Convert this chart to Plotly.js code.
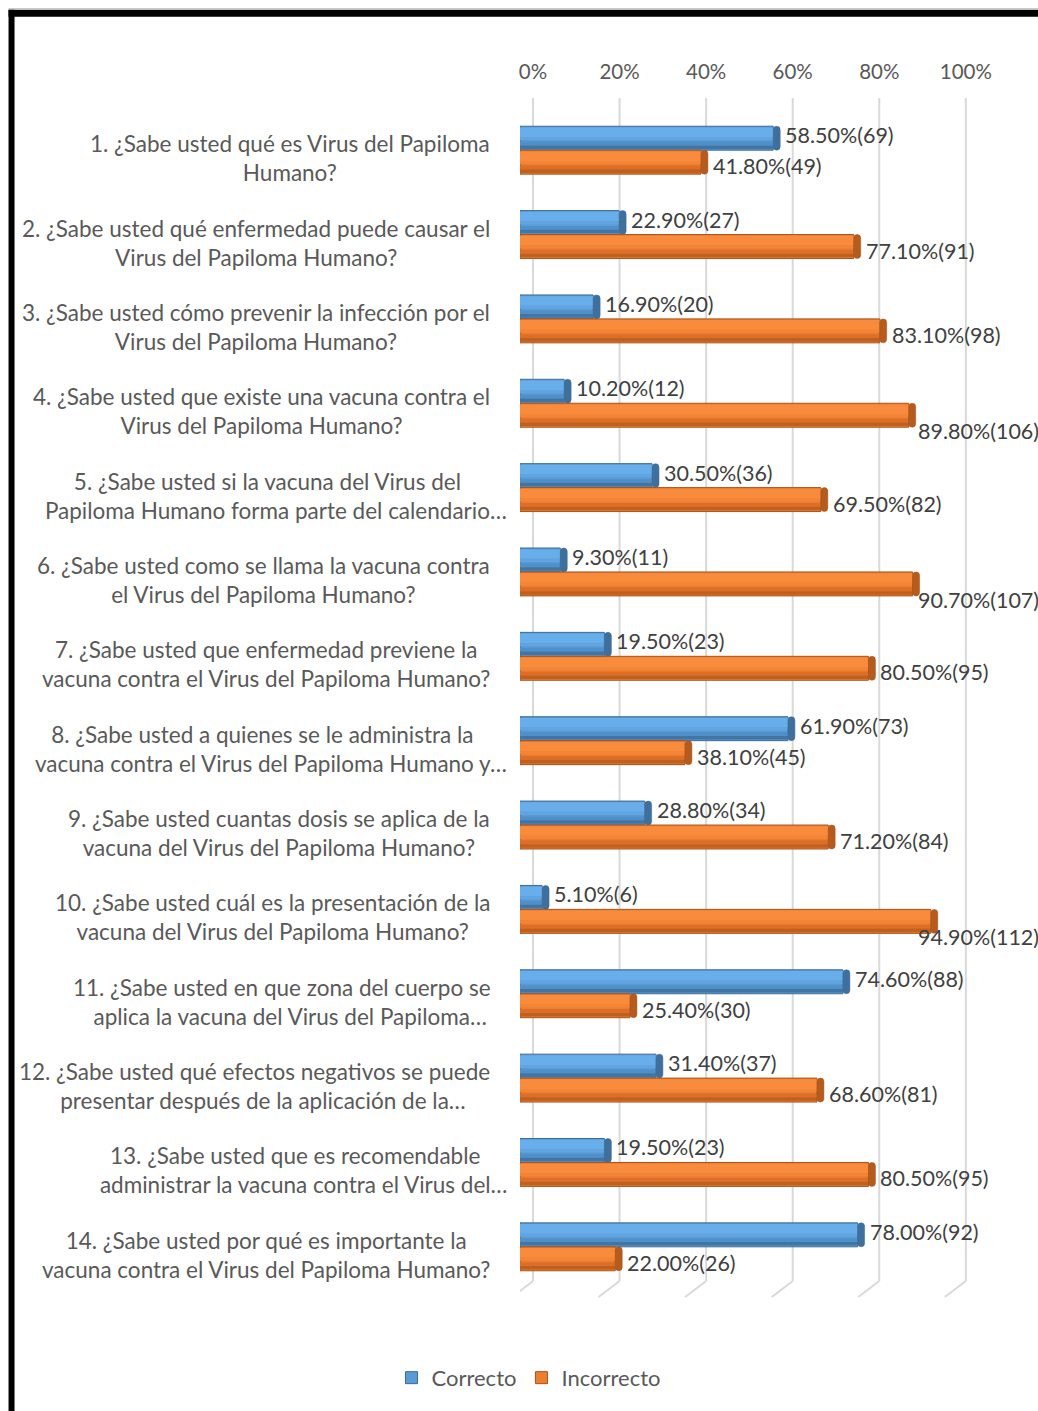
<!DOCTYPE html>
<html>
<head>
<meta charset="utf-8">
<script src="https://cdn.plot.ly/plotly-3.0.1.min.js"></script>
<style>
  html, body { margin: 0; padding: 0; background: #ffffff; }
  #chart { width: 1038px; height: 1411px; }
</style>
</head>
<body>
<div id="chart"></div>
<script>
// Survey questions (label lines as printed beside each pair of bars)
const questions = [
  "1. ¿Sabe usted qué es Virus del Papiloma<br>Humano?",
  "2. ¿Sabe usted qué enfermedad puede causar el<br>Virus del Papiloma Humano?",
  "3. ¿Sabe usted cómo prevenir la infección por el<br>Virus del Papiloma Humano?",
  "4. ¿Sabe usted que existe una vacuna contra el<br>Virus del Papiloma Humano?",
  "5. ¿Sabe usted si la vacuna del Virus del<br>Papiloma Humano forma parte del calendario…",
  "6. ¿Sabe usted como se llama la vacuna contra<br>el Virus del Papiloma Humano?",
  "7. ¿Sabe usted que enfermedad previene la<br>vacuna contra el Virus del Papiloma Humano?",
  "8. ¿Sabe usted a quienes se le administra la<br>vacuna contra el Virus del Papiloma Humano y…",
  "9. ¿Sabe usted cuantas dosis se aplica de la<br>vacuna del Virus del Papiloma Humano?",
  "10. ¿Sabe usted cuál es la presentación de la<br>vacuna del Virus del Papiloma Humano?",
  "11. ¿Sabe usted en que zona del cuerpo se<br>aplica la vacuna del Virus del Papiloma…",
  "12. ¿Sabe usted qué efectos negativos se puede<br>presentar después de la aplicación de la…",
  "13. ¿Sabe usted que es recomendable<br>administrar la vacuna contra el Virus del…",
  "14. ¿Sabe usted por qué es importante la<br>vacuna contra el Virus del Papiloma Humano?"
];

// Share of answers (percent) and number of respondents
const correctoPct   = [58.5, 22.9, 16.9, 10.2, 30.5, 9.3, 19.5, 61.9, 28.8, 5.1, 74.6, 31.4, 19.5, 78.0];
const correctoN     = [69, 27, 20, 12, 36, 11, 23, 73, 34, 6, 88, 37, 23, 92];
const incorrectoPct = [41.8, 77.1, 83.1, 89.8, 69.5, 90.7, 80.5, 38.1, 71.2, 94.9, 25.4, 68.6, 80.5, 22.0];
const incorrectoN   = [49, 91, 98, 106, 82, 107, 95, 45, 84, 112, 30, 81, 95, 26];

const tickValues = [0, 0.2, 0.4, 0.6, 0.8, 1.0];
const tickLabels = ["0%", "20%", "40%", "60%", "80%", "100%"];

// ---- page geometry (pixels) ----
const W = 1038, H = 1411;
const PX_PER_UNIT = 433.3;               // length of a 100% bar
const M = { l: 519.5, r: 48, t: 108, b: 120 };
const plotW = W - M.l - M.r, plotH = H - M.t - M.b;
const px2x = px => (px - M.l) / plotW;
const px2y = py => (H - M.b - py) / plotH;

const FONT = "Lato, 'Open Sans', sans-serif";
const LABEL_SIZE = 22.5;
const ELLIPSIS_W = 17;                   // rendered width of "…" at LABEL_SIZE
const BAR = 0.284;                       // thickness of one bar in category units
const CAP = 7 / PX_PER_UNIT;             // depth of the rounded end cap
const pos = questions.map((_, i) => i + 1);

// cylinder-like shading bands: [start, end] as fraction of the bar thickness, top to bottom
const bands = [
  { f: [0.05, 0.45], key: "light" },
  { f: [0.45, 0.58], key: "mid" },
  { f: [0.64, 0.80], key: "shade1" },
  { f: [0.80, 0.95], key: "shade2" }
];

function cylinder(values, name, side, c) {
  const top = side === "upper" ? -BAR : 0;
  const xs = values.map(v => v / 100);
  const out = [{
    type: "bar", orientation: "h", name: name, y: pos, x: xs,
    offset: top, width: BAR, showlegend: true, hoverinfo: "x+name",
    marker: { color: c.base, line: { color: c.edge, width: 1 } }
  }];
  bands.forEach(b => {
    out.push({
      type: "bar", orientation: "h", y: pos, x: xs, hoverinfo: "skip",
      offset: top + BAR * b.f[0], width: BAR * (b.f[1] - b.f[0]),
      showlegend: false, marker: { color: c[b.key] }
    });
  });
  // end cap of the cylinder, sitting on the end of each bar
  out.push({
    type: "bar", orientation: "h", y: pos, base: xs, x: xs.map(() => CAP),
    offset: top, width: BAR, showlegend: false, hoverinfo: "skip",
    marker: { color: c.cap, cornerradius: 5, line: { color: c.edge, width: 0.5 } }
  });
  return out;
}

const blue = {
  base: "#5B9BD5", edge: "#3E6C97", light: "#67AEEB", mid: "#61A4E0",
  shade1: "#5090C8", shade2: "#4375A4", cap: "#3F6F9C"
};
const orange = {
  base: "#ED7D31", edge: "#A8531B", light: "#F88C3C", mid: "#F28536",
  shade1: "#DC6F27", shade2: "#C0601F", cap: "#B55B1E"
};

const traces = [
  ...cylinder(correctoPct, "Correcto", "upper", blue),
  ...cylinder(incorrectoPct, "Incorrecto", "lower", orange)
];

// value labels "xx.xx%(n)" beside each bar
const annotations = [];
function valueLabels(values, counts, side) {
  values.forEach((v, i) => {
    const text = v.toFixed(2) + "%(" + counts[i] + ")";
    const yc = pos[i] + (side === "upper" ? -BAR / 2 : BAR / 2);
    const overflow = v > 86;
    const font = { family: FONT, size: 21.5, color: "#404040" };
    annotations.push(overflow ? {
      text, xref: "paper", x: px2x(1041), xanchor: "right",
      yref: "y", y: yc, yanchor: "middle", yshift: -16,
      showarrow: false, font
    } : {
      text, xref: "x", x: v / 100 + CAP, xanchor: "left", xshift: 3,
      yref: "y", y: yc, yanchor: "middle", yshift: side === "upper" ? 3 : -4,
      showarrow: false, font
    });
  });
}
valueLabels(correctoPct, correctoN, "upper");
valueLabels(incorrectoPct, incorrectoN, "lower");

// question labels: lines centred on one another; a trailing "…" hangs past the
// label box, so truncated labels get an invisible twin on the other side of each line
const GHOST = '<span style="color:rgba(0,0,0,0)">…</span>';
questions.forEach((q, i) => {
  const truncated = q.indexOf("…") >= 0;
  const text = truncated
    ? q.split("<br>").map(l => l.endsWith("…") ? GHOST + l : GHOST + l + GHOST).join("<br>")
    : q;
  annotations.push({
    text, xref: "paper", x: px2x(491), xanchor: "right", align: "center",
    xshift: truncated ? ELLIPSIS_W : 0,
    yref: "y", y: pos[i], yanchor: "middle", yshift: -8,
    showarrow: false, font: { family: FONT, size: LABEL_SIZE, color: "#595959" }
  });
});

// back-wall gridlines with the slanted floor segment at the bottom
const shapes = [];
tickValues.forEach(t => {
  shapes.push({
    type: "line", layer: "below", xref: "x", xsizemode: "pixel", xanchor: t,
    x0: 13, x1: 13, yref: "paper", y0: px2y(1283), y1: px2y(98),
    line: { color: "#D9D9D9", width: 2 }
  });
  shapes.push({
    type: "line", layer: "below", xref: "x", xsizemode: "pixel", xanchor: t,
    x0: 13, x1: -8, yref: "paper", ysizemode: "pixel", yanchor: px2y(1283),
    y0: 0, y1: -16, line: { color: "#D9D9D9", width: 2 }
  });
});

// heavy black frame along the top and left edges
shapes.push({
  type: "line", layer: "above", xref: "paper", yref: "paper",
  x0: px2x(7.5), x1: px2x(1045), y0: px2y(13), y1: px2y(13),
  line: { color: "#000000", width: 7 }
});
shapes.push({
  type: "line", layer: "above", xref: "paper", yref: "paper",
  x0: px2x(10.5), x1: px2x(10.5), y0: px2y(9.5), y1: px2y(1420),
  line: { color: "#000000", width: 6 }
});
shapes.push({
  type: "line", layer: "above", xref: "paper", yref: "paper",
  x0: px2x(7.5), x1: px2x(1045), y0: px2y(8.5), y1: px2y(8.5),
  line: { color: "#BFBFBF", width: 1 }
});

const layout = {
  width: W, height: H,
  margin: M,
  paper_bgcolor: "#ffffff", plot_bgcolor: "rgba(0,0,0,0)",
  barmode: "overlay",
  showlegend: true,
  font: { family: FONT, size: 21, color: "#595959" },
  xaxis: {
    range: [0, plotW / PX_PER_UNIT], side: "top", tickvals: tickValues, ticktext: tickLabels,
    showgrid: false, zeroline: false, showline: false, ticks: "",
    ticklabelshift: 13, ticklabelstandoff: 24, fixedrange: true,
    tickfont: { family: FONT, size: 20.5, color: "#595959" }
  },
  yaxis: {
    range: [questions.length + 0.5, 0.5], showticklabels: false,
    showgrid: false, zeroline: false, showline: false, ticks: "", fixedrange: true
  },
  legend: {
    orientation: "h", x: px2x(528), xanchor: "center", y: px2y(1380), yanchor: "middle",
    font: { family: FONT, size: 22, color: "#595959" }, itemwidth: 30, traceorder: "normal"
  },
  annotations, shapes
};

Plotly.newPlot("chart", traces, layout, { displayModeBar: false, staticPlot: true });
</script>
</body>
</html>
